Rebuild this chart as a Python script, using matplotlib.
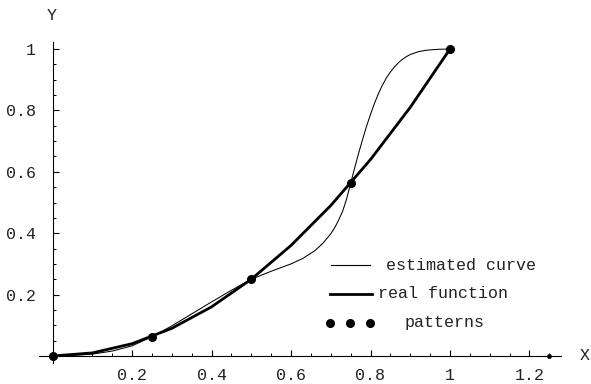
import matplotlib
matplotlib.use("Agg")
import matplotlib.pyplot as plt
from matplotlib.ticker import FixedLocator

# ---- data ----
real_x = [0.0, 0.1, 0.2, 0.3, 0.4, 0.5, 0.6, 0.7, 0.8, 0.9, 1.0]
real_y = [0.0, 0.01, 0.04, 0.09, 0.16, 0.25, 0.36, 0.49, 0.64, 0.81, 1.0]

est_x = [0.0, 0.05, 0.1, 0.15, 0.2, 0.25, 0.3, 0.35, 0.4, 0.45, 0.5, 0.55,
         0.6, 0.63, 0.66, 0.68, 0.7, 0.71, 0.72, 0.73, 0.74, 0.75, 0.76,
         0.77, 0.78, 0.79, 0.8, 0.81, 0.82, 0.83, 0.84, 0.85, 0.86, 0.87,
         0.88, 0.89, 0.9, 0.92, 0.94, 0.97, 1.0]
est_y = [0.0, 0.002, 0.006, 0.016, 0.033, 0.0625, 0.098, 0.137, 0.176, 0.214,
         0.25, 0.276, 0.30, 0.318, 0.343, 0.367, 0.398, 0.418, 0.443, 0.472,
         0.512, 0.5625, 0.612, 0.66, 0.705, 0.748, 0.787, 0.823, 0.855, 0.882,
         0.906, 0.925, 0.941, 0.955, 0.966, 0.975, 0.982, 0.991, 0.996, 0.999, 1.0]

pat_x = [0.0, 0.25, 0.5, 0.75, 1.0]
pat_y = [0.0, 0.0625, 0.25, 0.5625, 1.0]

x_ticks = [0.2, 0.4, 0.6, 0.8, 1.0, 1.2]
x_labels = ["0.2", "0.4", "0.6", "0.8", "1", "1.2"]
y_ticks = [0.2, 0.4, 0.6, 0.8, 1.0]
y_labels = ["0.2", "0.4", "0.6", "0.8", "1"]

legend_labels = ["estimated curve", "real function", "patterns"]

# ---- figure ----
W, H = 591, 384
fig = plt.figure(figsize=(W / 100, H / 100), dpi=100)
mono = "Liberation Mono"

# pixel mapping: x=0 -> 52.5, x=1 -> 450 ; y=0 -> 356 (top), y=1 -> 49 (top)
sx = 397.5
sy = 307.0
x0p = 52.5
y0p = H - 356.0
xlim = (-0.04, 1.35)
ylim = (-0.05, 1.1)
left = x0p + xlim[0] * sx
right = x0p + xlim[1] * sx
bottom = y0p + ylim[0] * sy
top = y0p + ylim[1] * sy
ax = fig.add_axes([left / W, bottom / H, (right - left) / W, (top - bottom) / H])
ax.set_xlim(*xlim)
ax.set_ylim(*ylim)
ax.patch.set_alpha(0)

for s in ["top", "right"]:
    ax.spines[s].set_visible(False)
ax.spines["bottom"].set_position(("data", 0))
ax.spines["left"].set_position(("data", 0))
ax.spines["bottom"].set_bounds(-0.035, 1.28)
ax.spines["left"].set_bounds(-0.023, 1.022)
for s in ["bottom", "left"]:
    ax.spines[s].set_linewidth(0.8)

ax.xaxis.set_major_locator(FixedLocator(x_ticks))
ax.xaxis.set_minor_locator(FixedLocator([0.05 * i for i in range(1, 26) if i % 4 != 0]))
ax.set_xticklabels(x_labels)
ax.yaxis.set_major_locator(FixedLocator(y_ticks))
ax.yaxis.set_minor_locator(FixedLocator([0.05 * i for i in range(1, 21) if i % 4 != 0]))
ax.set_yticklabels(y_labels)

ax.tick_params(axis="both", which="major", direction="in", length=4, width=0.8,
               labelsize=12, pad=9)
ax.tick_params(axis="both", which="minor", direction="in", length=2.2, width=0.7)
for lab in ax.get_xticklabels() + ax.get_yticklabels():
    lab.set_fontfamily(mono)
    lab.set_color("#222222")
ax.tick_params(axis="y", pad=12)

# curves
ax.plot(est_x, est_y, color="black", lw=0.75, solid_capstyle="round",
        solid_joinstyle="round")
ax.plot(real_x, real_y, color="black", lw=2.0, solid_joinstyle="round")
ax.plot(pat_x, pat_y, "o", color="black", ms=5.5)

# axis end dot
ax.plot([1.25], [0], "o", color="black", ms=2.5, clip_on=False)

# axis labels
fig.text(585 / W, 1 - 356 / H, "X", family=mono, fontsize=12, ha="center",
         va="center", color="#222222")
fig.text(52 / W, 1 - 16 / H, "Y", family=mono, fontsize=12, ha="center",
         va="center", color="#222222")

# legend drawn in figure pixels
leg_ax = fig.add_axes([0, 0, 1, 1])
leg_ax.set_xlim(0, W)
leg_ax.set_ylim(H, 0)
leg_ax.axis("off")
leg_ax.plot([331, 370], [265, 265], color="black", lw=0.8)
leg_ax.text(386, 265, legend_labels[0], family=mono, fontsize=12, va="center",
            ha="left", color="#222222")
leg_ax.plot([330, 372], [294, 294], color="black", lw=2.0)
leg_ax.text(378, 294, legend_labels[1], family=mono, fontsize=12, va="center",
            ha="left", color="#222222")
leg_ax.plot([330, 350, 370], [323, 323, 323], "o", color="black", ms=5.5)
leg_ax.text(405, 322, legend_labels[2], family=mono, fontsize=12, va="center",
            ha="left", color="#222222")

fig.savefig("out.png", dpi=100)
